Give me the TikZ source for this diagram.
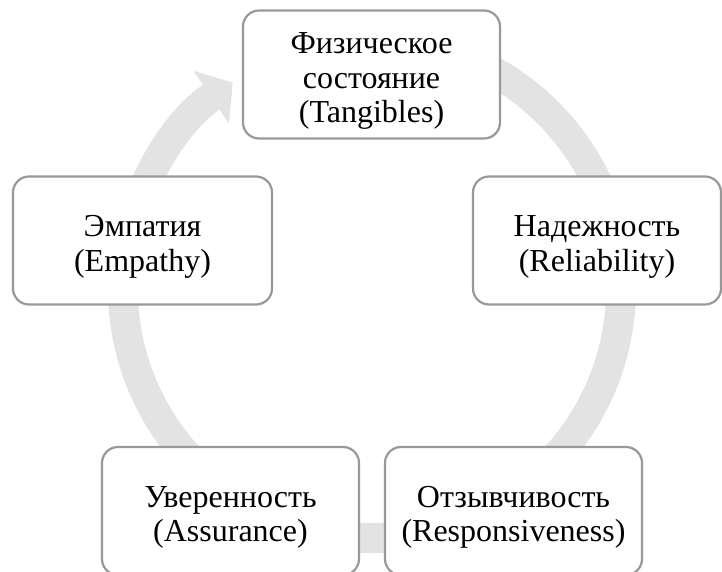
\documentclass[tikz,border=0pt]{standalone}
\usepackage{fontspec}
\setmainfont{Liberation Serif}
\usetikzlibrary{arrows.meta}

\begin{document}
\begin{tikzpicture}[x=1pt,y=1pt,>={Triangle[length=26pt,width=62pt]},
  stage/.style={draw=gray!80,line width=2.2pt,fill=white,rounded corners=16pt,minimum width=257pt,minimum height=128pt,align=center,inner sep=0pt,font=\fontsize{32}{34.5}\selectfont}]
  \useasboundingbox (0,0) rectangle (722,571);
  \coordinate (c) at (372,282);
  \draw[->, gray!22, line width=30pt] (c) ++(80:249) arc[start angle=80, end angle=-236, radius=249];
  \node[stage] (tang) at (371.5,496.5) {\rule{0pt}{34pt}Физическое\\состояние\\(Tangibles)};
  \node[stage,minimum width=248pt] (reli) at (597,330.5) {\rule{0pt}{34pt}Надежность\\(Reliability)};
  \node[stage] (resp) at (513.5,60) {\rule{0pt}{34pt}Отзывчивость\\(Responsiveness)};
  \node[stage] (assu) at (230.5,60) {\rule{0pt}{34pt}Уверенность\\(Assurance)};
  \node[stage,minimum width=259pt] (empa) at (142.5,330.5) {\rule{0pt}{34pt}Эмпатия\\(Empathy)};
\end{tikzpicture}
\end{document}
